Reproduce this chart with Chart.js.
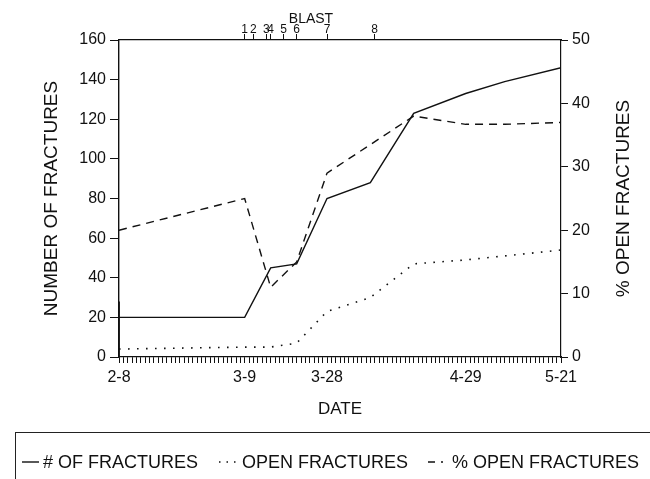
<!DOCTYPE html>
<html><head><meta charset="utf-8">
<script src="https://cdn.jsdelivr.net/npm/chart.js@4.4.1/dist/chart.umd.min.js"></script>
<style>
html,body{margin:0;padding:0;background:#fff;}
#wrap{position:relative;width:650px;height:479px;overflow:hidden;background:#fff;}
canvas{position:absolute;left:0;top:0;}
#legend{position:absolute;left:15px;top:432px;width:650px;height:60px;border-top:1px solid #222;border-left:1px solid #222;font-family:'Liberation Sans',Arial,Helvetica,sans-serif;font-size:18px;color:#111;}
#row{position:absolute;left:6px;top:19px;display:flex;align-items:center;white-space:nowrap;line-height:20px;gap:20px;}
.item{display:flex;align-items:center;}
.item svg{margin-right:4px;}
</style></head>
<body><div id="wrap"><canvas id="c" width="650" height="479"></canvas>
<div id="legend"><div id="row">
 <div class="item"><svg width="17" height="10"><line x1="0" y1="5" x2="17" y2="5" stroke="#111" stroke-width="1.4"/></svg># OF FRACTURES</div>
 <div class="item"><svg width="20" height="10"><line x1="1" y1="5" x2="20" y2="5" stroke="#111" stroke-width="1.6" stroke-dasharray="1.5 6"/></svg>OPEN FRACTURES</div>
 <div class="item"><svg width="20" height="10"><line x1="0" y1="5" x2="20" y2="5" stroke="#111" stroke-width="1.4" stroke-dasharray="7 6 2 6"/></svg>% OPEN FRACTURES</div>
</div></div></div>
<script>
// ---- data (x = days after Feb 8) ----
const dayNums        = [0, 29, 35, 41, 48, 58, 68, 80, 89, 102];
const totalFractures = [20, 20, 45, 47, 80, 88, 123, 133, 139, 146];
const openFractures  = [4, 5, 5, 7, 23, 30, 47, 49, 51, 54];
const pctOpen        = [20, 25, 11, 15, 29, 33.5, 38, 36.7, 36.7, 37];
const startDays      = [0, 0];
const startValues    = [0, 28];
const dateTickDays   = [0, 29, 48, 80, 102];
const dateTickLabels = ['2-8', '3-9', '3-28', '4-29', '5-21'];
const blastDays      = [29, 31, 34, 35, 38, 41, 48, 59];
const blastLabels    = ['1', '2', '3', '4', '5', '6', '7', '8'];
const blastTitleDay  = 44.3;
const dayTicks       = Array.from({length: 103}, (_, i) => i);

const FONT = "'Liberation Sans', Arial, Helvetica, sans-serif";
const INK = '#111';
const pts = (xs, ys) => xs.map((x, i) => ({x: x, y: ys[i]}));

const extraTitles = {
  id: 'extraTitles',
  afterDraw(chart) {
    const ctx = chart.ctx;
    const s = chart.scales.y1;
    ctx.save();
    ctx.fillStyle = INK;
    ctx.textAlign = 'center';
    ctx.textBaseline = 'middle';
    ctx.font = '19px ' + FONT;
    ctx.translate(s.right - 26, (s.top + s.bottom) / 2);
    ctx.rotate(-Math.PI / 2);
    ctx.fillText('% OPEN FRACTURES', 0, 0);
    ctx.restore();
    const t = chart.scales.xTop;
    ctx.save();
    ctx.fillStyle = INK;
    ctx.textAlign = 'center';
    ctx.textBaseline = 'middle';
    ctx.font = '14px ' + FONT;
    ctx.fillText('BLAST', t.getPixelForValue(blastTitleDay), 19);
    ctx.restore();
  }
};

new Chart(document.getElementById('c'), {
  type: 'line',
  data: {
    datasets: [
      {label: '# OF FRACTURES', data: pts(dayNums, totalFractures), yAxisID: 'y', xAxisID: 'x',
       borderColor: INK, borderWidth: 1.4, pointRadius: 0, tension: 0, fill: false},
      {label: 'start', data: pts(startDays, startValues), yAxisID: 'y', xAxisID: 'x',
       borderColor: INK, borderWidth: 1.8, pointRadius: 0, fill: false},
      {label: 'OPEN FRACTURES', data: pts(dayNums, openFractures), yAxisID: 'y', xAxisID: 'x',
       borderColor: INK, borderWidth: 1.6, borderDash: [1.6, 7.4], pointRadius: 0, tension: 0, fill: false},
      {label: '% OPEN FRACTURES', data: pts(dayNums, pctOpen), yAxisID: 'y1', xAxisID: 'x',
       borderColor: INK, borderWidth: 1.4, borderDash: [8, 6], pointRadius: 0, tension: 0, fill: false}
    ]
  },
  options: {
    responsive: false, animation: false, devicePixelRatio: 1,
    layout: {padding: {left: 0, right: 0, top: 0, bottom: 59}},
    plugins: {legend: {display: false}, tooltip: {enabled: false}},
    scales: {
      x: {
        type: 'linear', position: 'bottom', min: 0, max: 102,
        afterBuildTicks: s => { s.ticks = dayTicks.map(v => ({value: v})); },
        ticks: {autoSkip: false, maxRotation: 0, minRotation: 0, padding: 5, color: INK,
          font: {family: FONT, size: 16},
          callback: v => { const k = dateTickDays.indexOf(v); return k >= 0 ? dateTickLabels[k] : ''; }},
        grid: {drawOnChartArea: false, tickLength: 6, color: INK, tickWidth: 1},
        border: {display: true, color: INK, width: 1.2},
        title: {display: true, text: 'DATE', color: INK, font: {family: FONT, size: 17}, padding: 0},
        afterFit: s => { s.height = 63; }
      },
      xTop: {
        type: 'linear', position: 'top', min: 0, max: 102,
        afterBuildTicks: s => { s.ticks = blastDays.map(v => ({value: v})); },
        ticks: {autoSkip: false, maxRotation: 0, minRotation: 0, padding: -2, color: INK,
          font: {family: FONT, size: 12, lineHeight: 1},
          callback: (v, i) => blastLabels[i]},
        grid: {drawOnChartArea: false, tickLength: 6, color: INK},
        border: {display: true, color: INK, width: 1.2},
        afterFit: s => { s.height = 40; }
      },
      y: {
        position: 'left', min: 0, max: 160,
        ticks: {stepSize: 20, padding: 4, color: INK, font: {family: FONT, size: 16}},
        grid: {drawOnChartArea: false, tickLength: 9, color: INK},
        border: {display: true, color: INK, width: 1.4},
        title: {display: true, text: 'NUMBER OF FRACTURES', color: INK, font: {family: FONT, size: 19}, padding: {top: 40, bottom: 0}},
        afterFit: s => { s.width = 119; }
      },
      y1: {
        position: 'right', min: 0, max: 50,
        ticks: {stepSize: 10, padding: 4, color: INK, font: {family: FONT, size: 16}},
        grid: {drawOnChartArea: false, tickLength: 7, color: INK},
        border: {display: true, color: INK, width: 1.2},
        afterFit: s => { s.width = 89; }
      }
    }
  },
  plugins: [extraTitles]
});
</script>
</body></html>
